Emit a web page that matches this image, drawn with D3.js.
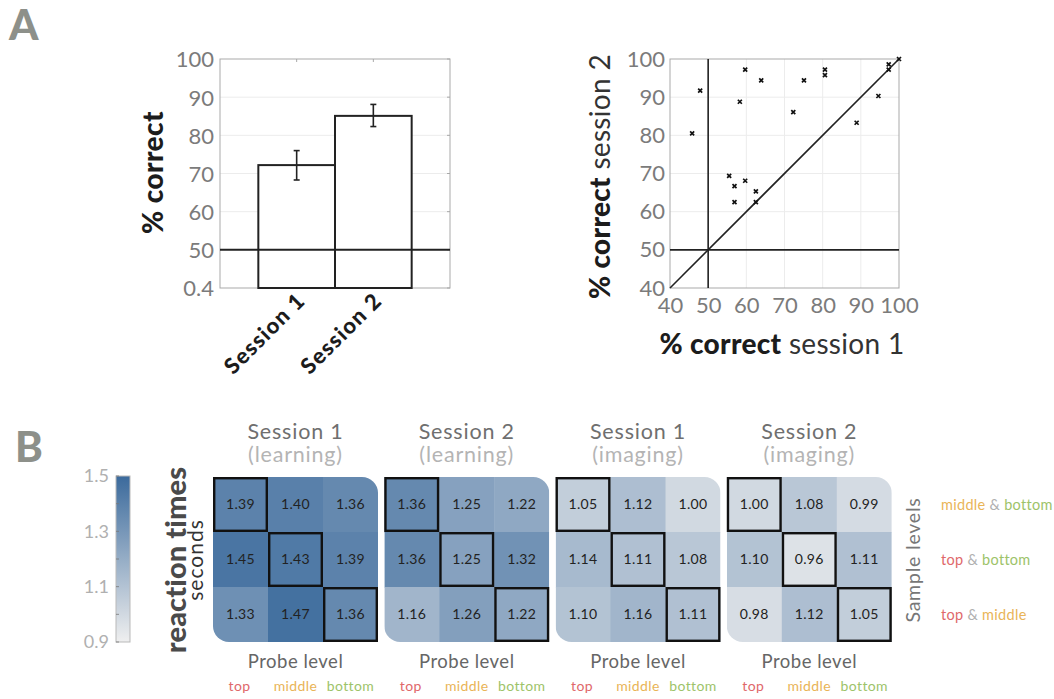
<!DOCTYPE html>
<html>
<head>
<meta charset="utf-8">
<script src="https://cdn.jsdelivr.net/npm/d3@7"></script>
<style>
  html, body { margin: 0; padding: 0; background: #fff; }
  svg { display: block; font-family: Lato, "Open Sans", sans-serif; }
</style>
</head>
<body>
<div id="chart"></div>
<script>
"use strict";

// panel A, bars
const barSessions = ["Session 1", "Session 2"];
const barMeans = [72.2, 85.1];
const barErrLow = [68.3, 82.3];
const barErrHigh = [76.0, 88.1];
const barTicks = [40, 50, 60, 70, 80, 90, 100];
const barTickLabels = ["0.4", "50", "60", "70", "80", "90", "100"];

// panel A, scatter (session 1 vs session 2 % correct)
const scatterS1 = [45.8, 47.9, 59.7, 63.9, 58.3, 72.3, 75.1, 80.6, 80.6, 88.9,
  94.6, 97.3, 97.3, 100, 55.5, 56.9, 56.9, 59.7, 62.5, 62.5];
const scatterS2 = [80.5, 91.7, 97.2, 94.4, 88.8, 86.1, 94.4, 97.2, 95.8, 83.3,
  90.3, 98.6, 97.2, 100, 69.4, 66.7, 62.5, 68.1, 65.3, 62.5];
const scatterTicks = [40, 50, 60, 70, 80, 90, 100];

// panel B, reaction times
const panelTitles = ["Session 1", "Session 2", "Session 1", "Session 2"];
const panelSubtitles = ["(learning)", "(learning)", "(imaging)", "(imaging)"];
const probeLevels = ["top", "middle", "bottom"];
const sampleLevels = [["middle", "bottom"], ["top", "bottom"], ["top", "middle"]];
const rtS1Learning = [[1.39, 1.40, 1.36], [1.45, 1.43, 1.39], [1.33, 1.47, 1.36]];
const rtS2Learning = [[1.36, 1.25, 1.22], [1.36, 1.25, 1.32], [1.16, 1.26, 1.22]];
const rtS1Imaging = [[1.05, 1.12, 1.00], [1.14, 1.11, 1.08], [1.10, 1.16, 1.11]];
const rtS2Imaging = [[1.00, 1.08, 0.99], [1.10, 0.96, 1.11], [0.98, 1.12, 1.05]];
const colorTicks = [0.9, 1.1, 1.3, 1.5];
const colorMinorTicks = [1.0, 1.2, 1.4];

const levelColor = { top: "#e0686a", middle: "#e9b457", bottom: "#9dc369" };
const tickGray = "#7b7b7b";
const letterGray = "#8d908a";

const svg = d3.select("#chart").append("svg")
  .attr("width", 1054).attr("height", 699)
  .attr("viewBox", "0 0 1054 699");
svg.append("rect").attr("width", 1054).attr("height", 699).attr("fill", "#fff");

svg.append("text").attr("x", 9).attr("y", 40)
  .attr("font-size", 42).attr("font-weight", 900).attr("fill", letterGray).text("A");
svg.append("text").attr("x", 15).attr("y", 462)
  .attr("font-size", 42).attr("font-weight", 900).attr("fill", letterGray).text("B");

// ---------- bar chart ----------
(function drawBars() {
  const x = d3.scaleLinear().domain([0, 3]).range([220, 450]);
  const y = d3.scaleLinear().domain([40, 100]).range([288, 59]);
  const g = svg.append("g");

  g.selectAll("line.grid").data(barTicks.slice(1, -1)).join("line")
    .attr("x1", x(0)).attr("x2", x(3))
    .attr("y1", (d) => y(d)).attr("y2", (d) => y(d))
    .attr("stroke", "#ececec").attr("stroke-width", 1);

  g.append("rect").attr("x", x(0)).attr("y", y(100))
    .attr("width", x(3) - x(0)).attr("height", y(40) - y(100))
    .attr("fill", "none").attr("stroke", "#a9a9a9").attr("stroke-width", 1);

  const yAxis = d3.axisLeft(y).tickValues(barTicks)
    .tickFormat((d, i) => barTickLabels[i]).tickSize(0).tickPadding(6);
  g.append("g").attr("transform", `translate(${x(0)},0)`).call(yAxis)
    .call((a) => a.select(".domain").remove())
    .selectAll("text").attr("font-size", 22).attr("fill", tickGray)
    .attr("font-family", "Lato, sans-serif").attr("dy", "0.36em");

  // inward ticks on the right side and top
  g.selectAll("line.rtick").data(barTicks).join("line")
    .attr("x1", x(3) - 3).attr("x2", x(3))
    .attr("y1", (d) => y(d)).attr("y2", (d) => y(d))
    .attr("stroke", "#a9a9a9");
  g.selectAll("line.ttick").data([1, 2]).join("line")
    .attr("x1", (d) => x(d)).attr("x2", (d) => x(d))
    .attr("y1", y(100)).attr("y2", y(100) + 3)
    .attr("stroke", "#a9a9a9");

  g.selectAll("rect.bar").data(barMeans).join("rect")
    .attr("x", (d, i) => x(i + 0.5)).attr("width", x(1) - x(0))
    .attr("y", (d) => y(d)).attr("height", (d) => y(40) - y(d))
    .attr("fill", "#fff").attr("stroke", "#222").attr("stroke-width", 2);

  g.append("line").attr("x1", x(0)).attr("x2", x(3))
    .attr("y1", y(50)).attr("y2", y(50))
    .attr("stroke", "#222").attr("stroke-width", 2);

  barMeans.forEach((m, i) => {
    const cx = x(i + 1);
    g.append("line").attr("x1", cx).attr("x2", cx)
      .attr("y1", y(barErrHigh[i])).attr("y2", y(barErrLow[i]))
      .attr("stroke", "#222").attr("stroke-width", 1.6);
    [barErrHigh[i], barErrLow[i]].forEach((v) => {
      g.append("line").attr("x1", cx - 3).attr("x2", cx + 3)
        .attr("y1", y(v)).attr("y2", y(v))
        .attr("stroke", "#222").attr("stroke-width", 1.6);
    });
  });

  g.selectAll("text.xlab").data(barSessions).join("text")
    .attr("transform", (d, i) => `translate(${x(i + 1) + 10},${y(40) + 14}) rotate(-45)`)
    .attr("text-anchor", "end").attr("font-size", 22).attr("font-weight", 900)
    .attr("letter-spacing", 1.3)
    .attr("fill", "#1c1c1c").text((d) => d);

  g.append("text")
    .attr("transform", `translate(163,${y(70) - 1}) rotate(-90)`)
    .attr("text-anchor", "middle").attr("font-size", 28).attr("font-weight", 900)
    .attr("letter-spacing", 0.4)
    .attr("fill", "#1c1c1c").text("% correct");
})();

// ---------- scatter ----------
(function drawScatter() {
  const x = d3.scaleLinear().domain([40, 100]).range([670, 899]);
  const y = d3.scaleLinear().domain([40, 100]).range([288, 59]);
  const g = svg.append("g");

  g.selectAll("line.gx").data(scatterTicks.slice(1, -1)).join("line")
    .attr("x1", (d) => x(d)).attr("x2", (d) => x(d))
    .attr("y1", y(40)).attr("y2", y(100)).attr("stroke", "#ececec");
  g.selectAll("line.gy").data(scatterTicks.slice(1, -1)).join("line")
    .attr("y1", (d) => y(d)).attr("y2", (d) => y(d))
    .attr("x1", x(40)).attr("x2", x(100)).attr("stroke", "#ececec");
  g.append("rect").attr("x", x(40)).attr("y", y(100))
    .attr("width", x(100) - x(40)).attr("height", y(40) - y(100))
    .attr("fill", "none").attr("stroke", "#a9a9a9");

  const yAxis = d3.axisLeft(y).tickValues(scatterTicks).tickSize(0).tickPadding(5);
  g.append("g").attr("transform", `translate(${x(40)},0)`).call(yAxis)
    .call((a) => a.select(".domain").remove())
    .selectAll("text").attr("font-size", 22).attr("fill", tickGray)
    .attr("font-family", "Lato, sans-serif");
  const xAxis = d3.axisBottom(x).tickValues(scatterTicks).tickSize(0).tickPadding(9);
  g.append("g").attr("transform", `translate(0,${y(40)})`).call(xAxis)
    .call((a) => a.select(".domain").remove())
    .selectAll("text").attr("font-size", 22).attr("fill", tickGray)
    .attr("font-family", "Lato, sans-serif");

  g.append("line").attr("x1", x(50)).attr("x2", x(50))
    .attr("y1", y(40)).attr("y2", y(100)).attr("stroke", "#222").attr("stroke-width", 1.6);
  g.append("line").attr("x1", x(40)).attr("x2", x(100))
    .attr("y1", y(50)).attr("y2", y(50)).attr("stroke", "#222").attr("stroke-width", 1.6);
  g.append("line").attr("x1", x(40)).attr("x2", x(100))
    .attr("y1", y(40)).attr("y2", y(100)).attr("stroke", "#222").attr("stroke-width", 1.6);

  const pts = scatterS1.map((v, i) => [v, scatterS2[i]]);
  const s = 2;
  g.selectAll("path.pt").data(pts).join("path")
    .attr("d", (d) => {
      const px = x(d[0]), py = y(d[1]);
      return `M${px - s},${py - s}L${px + s},${py + s}M${px - s},${py + s}L${px + s},${py - s}`;
    })
    .attr("stroke", "#111").attr("stroke-width", 1.7);

  const yl = g.append("text")
    .attr("transform", `translate(610,${y(70) + 3}) rotate(-90)`)
    .attr("text-anchor", "middle").attr("font-size", 28).attr("fill", "#1c1c1c")
    .attr("letter-spacing", 0.3);
  yl.append("tspan").attr("font-weight", 900).text("% correct");
  yl.append("tspan").attr("font-weight", 400).attr("fill", "#333").text(" session 2");

  const xl = g.append("text").attr("x", 782).attr("y", 354)
    .attr("text-anchor", "middle").attr("font-size", 28).attr("fill", "#1c1c1c")
    .attr("letter-spacing", 0.3);
  xl.append("tspan").attr("font-weight", 900).text("% correct");
  xl.append("tspan").attr("font-weight", 400).attr("fill", "#333").text(" session 1");
})();

// ---------- heatmaps ----------
(function drawHeatmaps() {
  const color = d3.scaleLinear().domain([0.9, 1.5]).range(["#efefef", "#3b6a9c"]);
  const matrices = [rtS1Learning, rtS2Learning, rtS1Imaging, rtS2Imaging];
  const panelX = d3.scaleBand().domain(d3.range(4)).range([213, 893]).paddingInner(5 / 170).paddingOuter(0);
  const top = 477, size = 165, cell = size / 3, r = 16;
  const col = d3.scaleBand().domain(d3.range(3)).range([0, size]);

  matrices.forEach((m, p) => {
    const x0 = panelX(p);
    const g = svg.append("g").attr("transform", `translate(${x0},${top})`);
    const clipId = `clip${p}`;
    g.append("clipPath").attr("id", clipId).append("path")
      .attr("d", `M0,0H${size - r}A${r},${r} 0 0 1 ${size},${r}V${size}H${r}A${r},${r} 0 0 1 0,${size - r}Z`);

    const cells = [];
    m.forEach((row, ri) => row.forEach((v, ci) => cells.push({ ri, ci, v })));
    g.append("g").attr("clip-path", `url(#${clipId})`)
      .selectAll("rect").data(cells).join("rect")
      .attr("x", (d) => col(d.ci)).attr("y", (d) => col(d.ri))
      .attr("width", cell + 0.5).attr("height", cell + 0.5)
      .attr("fill", (d) => color(d.v));

    g.selectAll("rect.diag").data(cells.filter((d) => d.ri === d.ci)).join("rect")
      .attr("x", (d) => col(d.ci) + 1.2).attr("y", (d) => col(d.ri) + 1.2)
      .attr("width", cell - 2.4).attr("height", cell - 2.4)
      .attr("fill", "none").attr("stroke", "#111").attr("stroke-width", 2.4);

    g.selectAll("text.val").data(cells).join("text")
      .attr("x", (d) => col(d.ci) + cell / 2).attr("y", (d) => col(d.ri) + cell / 2)
      .attr("dy", "0.35em").attr("text-anchor", "middle")
      .attr("font-size", 14).attr("fill", "#222").attr("font-family", "Lato, sans-serif")
      .attr("letter-spacing", 0.3)
      .text((d) => d.v.toFixed(2));

    g.append("text").attr("x", size / 2).attr("y", -38)
      .attr("text-anchor", "middle").attr("font-size", 21.5).attr("fill", "#6f6f6f")
      .attr("letter-spacing", 0.8)
      .text(panelTitles[p]);
    g.append("text").attr("x", size / 2).attr("y", -15)
      .attr("text-anchor", "middle").attr("font-size", 21.5).attr("fill", "#b4b4b4")
      .attr("letter-spacing", 0.8)
      .text(panelSubtitles[p]);
    g.append("text").attr("x", size / 2).attr("y", size + 26)
      .attr("text-anchor", "middle").attr("font-size", 18.5).attr("fill", "#666")
      .attr("letter-spacing", 0.5)
      .text("Probe level");
    g.selectAll("text.probe").data(probeLevels).join("text")
      .attr("x", (d, i) => col(i) + cell / 2 + (i === 0 ? -1 : 0)).attr("y", size + 49)
      .attr("text-anchor", "middle").attr("font-size", 14)
      .attr("letter-spacing", 0.4)
      .attr("fill", (d) => levelColor[d]).text((d) => d);
  });

  // colorbar
  const cy = d3.scaleLinear().domain([0.9, 1.5]).range([642, 476]);
  const grad = svg.append("defs").append("linearGradient").attr("id", "cbar")
    .attr("x1", 0).attr("x2", 0).attr("y1", 1).attr("y2", 0);
  d3.range(0, 1.0001, 0.1).forEach((t) => {
    grad.append("stop").attr("offset", t).attr("stop-color", color(0.9 + 0.6 * t));
  });
  svg.append("rect").attr("x", 116).attr("y", cy(1.5)).attr("width", 14)
    .attr("height", cy(0.9) - cy(1.5)).attr("fill", "url(#cbar)")
    .attr("stroke", "#b9b9b9").attr("stroke-width", 1);
  svg.selectAll("line.cminor").data(colorMinorTicks.concat(colorTicks)).join("line")
    .attr("x1", 116).attr("x2", 119).attr("y1", (d) => cy(d)).attr("y2", (d) => cy(d))
    .attr("stroke", "#777").attr("stroke-width", 0.8);
  const cAxis = d3.axisLeft(cy).tickValues(colorTicks).tickFormat(d3.format(".1f"))
    .tickSize(0).tickPadding(5);
  svg.append("g").attr("transform", "translate(114,0)").call(cAxis)
    .call((a) => a.select(".domain").remove())
    .selectAll("text").attr("font-size", 18).attr("fill", "#b0b0b0")
    .attr("font-family", "Lato, sans-serif");

  svg.append("text").attr("transform", "translate(186,560) rotate(-90)")
    .attr("text-anchor", "middle").attr("font-size", 29).attr("font-weight", 900)
    .attr("letter-spacing", 0.1)
    .attr("fill", "#4a4a4a").text("reaction times");
  svg.append("text").attr("transform", "translate(203,560) rotate(-90)")
    .attr("text-anchor", "middle").attr("font-size", 21).attr("fill", "#333")
    .attr("letter-spacing", 1)
    .text("seconds");

  // sample level labels
  svg.append("text").attr("transform", "translate(920,560) rotate(-90)")
    .attr("text-anchor", "middle").attr("font-size", 19.5).attr("fill", "#777")
    .attr("letter-spacing", 0.8)
    .text("Sample levels");
  sampleLevels.forEach((pair, ri) => {
    const t = svg.append("text").attr("x", 941).attr("y", top + col(ri) + cell / 2)
      .attr("dy", "0.35em").attr("font-size", 14.5).attr("letter-spacing", 0.3);
    t.append("tspan").attr("fill", levelColor[pair[0]]).text(pair[0]);
    t.append("tspan").attr("fill", "#b0b0b0").text(" & ");
    t.append("tspan").attr("fill", levelColor[pair[1]]).text(pair[1]);
  });
})();
</script>
</body>
</html>
